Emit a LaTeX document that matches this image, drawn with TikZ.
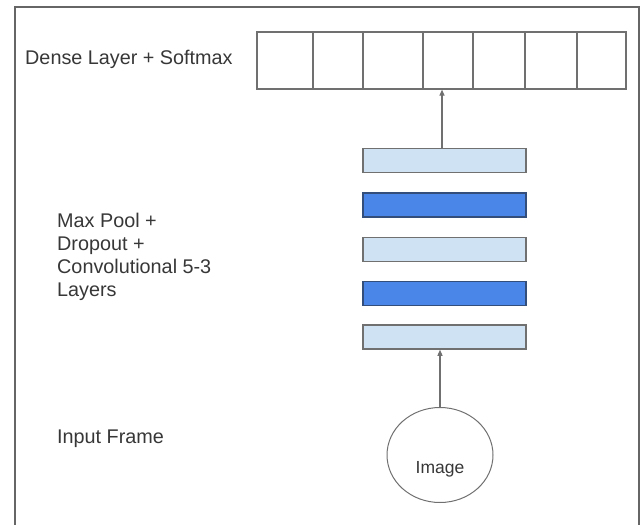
\documentclass[tikz,border=0pt]{standalone}
\usepackage{fontspec}
\setmainfont{Liberation Sans}
\usetikzlibrary{shapes.geometric, arrows.meta, positioning, calc}
\definecolor{framegray}{RGB}{102,102,102}
\definecolor{linegray}{RGB}{112,112,112}
\definecolor{lightblue}{RGB}{207,226,243}
\definecolor{darkblue}{RGB}{74,134,232}
\definecolor{darkedge}{RGB}{52,78,124}
\definecolor{textgray}{RGB}{55,55,55}

\begin{document}
\begin{tikzpicture}[
  x=1pt, y=-1pt,
  every node/.style={font=\fontsize{19.8}{23}\selectfont, text=textgray},
  cell/.style={rectangle, draw=linegray, line width=1.2pt, minimum height=57pt, inner sep=0pt},
  bar/.style={rectangle, draw=linegray, line width=1.5pt, minimum width=163pt, minimum height=24pt, inner sep=0pt},
  lightbar/.style={bar, fill=lightblue},
  darkbar/.style={bar, fill=darkblue, draw=darkedge},
  inputbox/.style={ellipse, draw=linegray, line width=1pt, minimum width=106pt, minimum height=95pt,
    inner sep=0pt, font=\fontsize{17.5}{20}\selectfont, text height=40pt, text depth=4pt},
  side/.style={anchor=west, align=left, inner sep=0pt},
  arr/.style={-{Triangle[length=6pt, width=5pt]}, linegray, line width=1.1pt},
]
\useasboundingbox (0,0) rectangle (643,525);

%% Frame
\draw[framegray, line width=1.6pt] (15,525) -- (15,7) -- (639,7) -- (639,525);

%% Dense layer cells
\foreach \l/\r [count=\i] in {257/313, 313/363, 363/423, 423/473, 473/525, 525/577, 577/626}
  \node[cell, minimum width={\r-\l}] (c\i) at ({(\l+\r)/2}, 60.5) {};

%% Conv stack (bottom to top)
\node[lightbar] (bar5) at (444.5, 337) {};
\node[darkbar]  (bar4) at (444.5, 293.5) {};
\node[lightbar] (bar3) at (444.5, 249.5) {};
\node[darkbar]  (bar2) at (444.5, 205) {};
\node[lightbar] (bar1) at (444.5, 160.5) {};

%% Input
\node[inputbox] (img) at (440, 455) {Image};

%% Labels
\node[side] (denselbl) at (25, 59)    {Dense Layer + Softmax};
\node[side] (convlbl)  at (57, 256.5) {Max Pool +\\Dropout +\\Convolutional 5-3\\Layers};
\node[side] (inlbl)    at (57, 439)   {Input Frame};

%% Arrows
\draw[arr] (img.north) -- (img.north |- bar5.south);
\draw[arr] ([xshift=-2.5pt]bar1.north) -- ([xshift=-2.5pt]bar1.north |- c4.south);

\end{tikzpicture}
\end{document}
